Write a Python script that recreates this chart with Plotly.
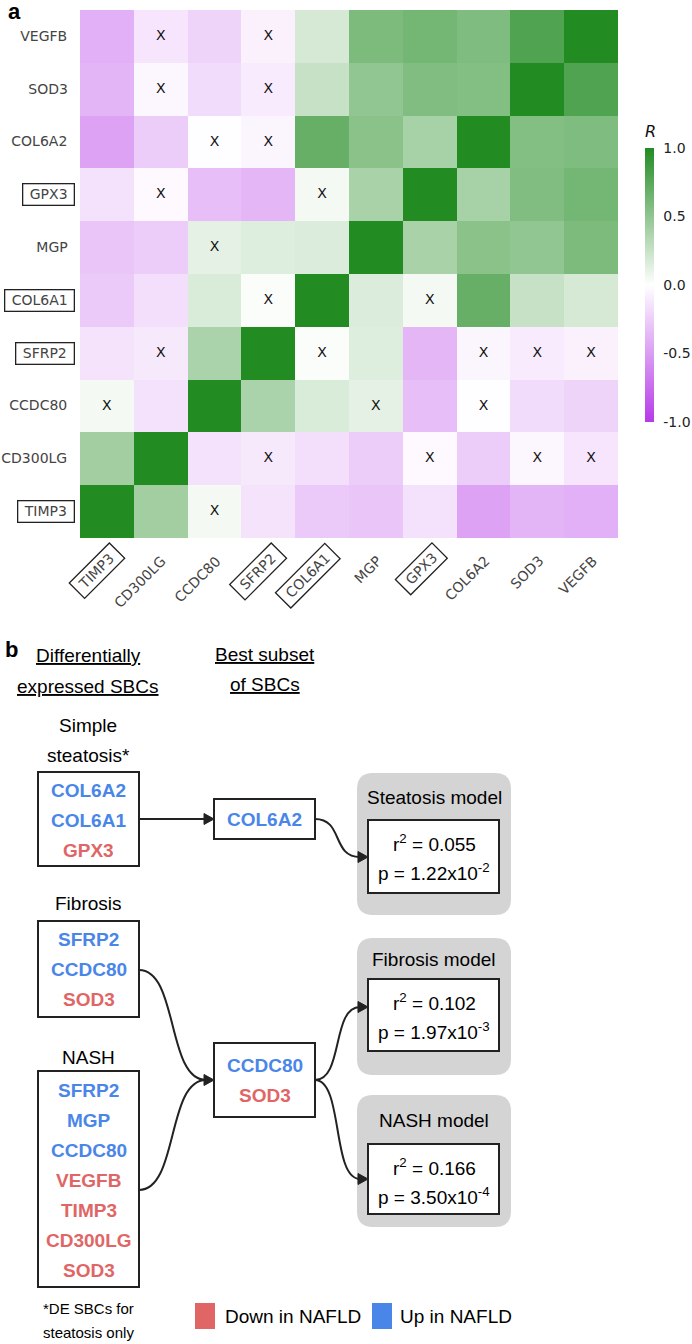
import plotly.graph_objects as go

# ---------------- data: panel a ----------------
genes = ["TIMP3", "CD300LG", "CCDC80", "SFRP2", "COL6A1",
         "MGP", "GPX3", "COL6A2", "SOD3", "VEGFB"]
boxed_genes = ["TIMP3", "SFRP2", "COL6A1", "GPX3"]
# correlation R (rows follow `genes`, bottom to top; columns left to right)
r_values = [
    [1.00, 0.42, 0.05, -0.14, -0.27, -0.29, -0.15, -0.47, -0.38, -0.40],  # TIMP3
    [0.42, 1.00, -0.15, -0.11, -0.16, -0.26, -0.03, -0.26, -0.04, -0.13],  # CD300LG
    [0.05, -0.15, 1.00, 0.38, 0.17, 0.12, -0.33, -0.01, -0.18, -0.22],    # CCDC80
    [-0.14, -0.11, 0.38, 1.00, 0.02, 0.15, -0.37, -0.05, -0.10, -0.07],   # SFRP2
    [-0.27, -0.16, 0.17, 0.02, 1.00, 0.16, 0.05, 0.69, 0.26, 0.19],       # COL6A1
    [-0.29, -0.26, 0.12, 0.15, 0.16, 1.00, 0.39, 0.53, 0.50, 0.59],       # MGP
    [-0.15, -0.03, -0.33, -0.37, 0.05, 0.39, 1.00, 0.40, 0.57, 0.63],     # GPX3
    [-0.47, -0.26, -0.01, -0.05, 0.69, 0.53, 0.40, 1.00, 0.56, 0.58],     # COL6A2
    [-0.38, -0.04, -0.18, -0.10, 0.26, 0.50, 0.57, 0.56, 1.00, 0.79],     # SOD3
    [-0.40, -0.13, -0.22, -0.07, 0.19, 0.59, 0.63, 0.58, 0.79, 1.00],     # VEGFB
]
not_significant = [("VEGFB", "CD300LG"), ("VEGFB", "SFRP2"), ("SOD3", "CD300LG"),
                   ("SOD3", "SFRP2"), ("COL6A2", "CCDC80"), ("COL6A2", "SFRP2"),
                   ("GPX3", "CD300LG"), ("GPX3", "COL6A1"), ("MGP", "CCDC80"),
                   ("COL6A1", "SFRP2"), ("SFRP2", "CD300LG"), ("CCDC80", "TIMP3")]
cbar_ticks = [-1.0, -0.5, 0.0, 0.5, 1.0]

# ---------------- data: panel b ----------------
de_simple = [("COL6A2", "up"), ("COL6A1", "up"), ("GPX3", "down")]
de_fibrosis = [("SFRP2", "up"), ("CCDC80", "up"), ("SOD3", "down")]
de_nash = [("SFRP2", "up"), ("MGP", "up"), ("CCDC80", "up"), ("VEGFB", "down"),
           ("TIMP3", "down"), ("CD300LG", "down"), ("SOD3", "down")]
best_steatosis = [("COL6A2", "up")]
best_fibrosis_nash = [("CCDC80", "up"), ("SOD3", "down")]
model_names = ["Steatosis model", "Fibrosis model", "NASH model"]
model_r2 = ["0.055", "0.102", "0.166"]
model_p = [("1.22", "-2"), ("1.97", "-3"), ("3.50", "-4")]

# ---------------- styling ----------------
W, H = 692, 1344
HM_FONT = "DejaVu Sans, sans-serif"
DG_FONT = "Liberation Sans, Arial, sans-serif"
DG_SIZE = 19
COL = {"up": "#4a86e8", "down": "#e06666"}
LINE = "#222222"
NB = "\u00a0"

hm_left, hm_right, hm_top, hm_bottom = 80, 618, 10, 538


def px(x):
    return x / W


def py(y):
    return 1 - y / H


fig = go.Figure()

fig.add_trace(go.Heatmap(
    z=r_values, x=genes, y=genes, zmin=-1, zmax=1,
    colorscale=[[0, "rgb(182,58,232)"], [0.5, "rgb(255,255,255)"], [1, "rgb(34,139,34)"]],
    xgap=0, ygap=0, hoverinfo="skip",
    colorbar=dict(
        x=px(645), xanchor="left", xpad=0, ypad=0,
        y=py(285), yanchor="middle",
        thickness=9, thicknessmode="pixels",
        len=274, lenmode="pixels", outlinewidth=0,
        tickvals=cbar_ticks, ticktext=[f"{v:.1f}" for v in cbar_ticks],
        ticks="outside", ticklen=7, tickcolor="rgba(0,0,0,0)",
        tickfont=dict(family=HM_FONT, size=14, color="#222"),
    ),
))

ns_x = [p[1] for p in not_significant] + [p[0] for p in not_significant]
ns_y = [p[0] for p in not_significant] + [p[1] for p in not_significant]
fig.add_trace(go.Scatter(
    x=ns_x, y=ns_y, mode="text", text=["X"] * len(ns_x),
    textfont=dict(family=HM_FONT, size=14, color="#111"),
    hoverinfo="skip", showlegend=False,
))

fig.update_layout(
    xaxis=dict(domain=[px(hm_left), px(hm_right)], type="category",
               categoryorder="array", categoryarray=genes, range=[-0.5, 9.5],
               showticklabels=False, showgrid=False, zeroline=False, ticks=""),
    yaxis=dict(domain=[py(hm_bottom), py(hm_top)], type="category",
               categoryorder="array", categoryarray=genes, range=[-0.5, 9.5],
               showticklabels=False, showgrid=False, zeroline=False, ticks=""),
    xaxis2=dict(domain=[0, 1], range=[0, W], visible=False, anchor="y2", fixedrange=True),
    yaxis2=dict(domain=[0, 1], range=[H, 0], visible=False, anchor="x2", fixedrange=True),
    width=W, height=H, margin=dict(l=0, r=0, t=0, b=0),
    plot_bgcolor="rgba(0,0,0,0)", paper_bgcolor="white", showlegend=False,
)
fig.add_trace(go.Scatter(x=[0], y=[0], xaxis="x2", yaxis="y2", mode="markers",
                         marker=dict(opacity=0), hoverinfo="skip", showlegend=False))

annotations = []
shapes = []

# axis labels (boxed ones get a frame)
for i, g in enumerate(genes):
    boxed = g in boxed_genes
    label = f"{NB}{g}{NB}" if boxed else g
    annotations.append(dict(
        x=px(hm_left), xref="paper", y=i, yref="y", text=label,
        xanchor="right", yanchor="middle", showarrow=False,
        xshift=-5 if boxed else -9,
        font=dict(family=HM_FONT, size=14, color="#444"),
        bordercolor="#222" if boxed else "rgba(0,0,0,0)", borderwidth=1.3, borderpad=2,
    ))
    annotations.append(dict(
        x=i, xref="x", y=py(hm_bottom), yref="paper", text=label,
        xanchor="right", yanchor="top", showarrow=False, textangle=-45,
        xshift=19 if boxed else 14, yshift=-4 if boxed else -10,
        font=dict(family=HM_FONT, size=14, color="#444"),
        bordercolor="#222" if boxed else "rgba(0,0,0,0)", borderwidth=1.3, borderpad=2,
    ))

annotations.append(dict(x=px(650), xref="paper", y=py(131), yref="paper",
                        xanchor="center", yanchor="middle",
                        text="<i>R</i>", showarrow=False,
                        font=dict(family=HM_FONT, size=16, color="#111")))

# panel letters
for letter, (lx, ly) in [("a", (14, 12)), ("b", (12, 650))]:
    annotations.append(dict(x=px(lx), xref="paper", y=py(ly), yref="paper",
                            xanchor="center", yanchor="middle", text=f"<b>{letter}</b>",
                            showarrow=False,
                            font=dict(family="Liberation Sans, Arial", size=22, color="#000")))


def txt(x, y, text, size=DG_SIZE, color="#000", bold=False, xanchor="center"):
    t = f"<b>{text}</b>" if bold else text
    annotations.append(dict(x=x, y=y, xref="x2", yref="y2", text=t, showarrow=False,
                            xanchor=xanchor, yanchor="middle",
                            font=dict(family=DG_FONT, size=size, color=color)))


def rect(x0, y0, x1, y1, fill="white", lw=2):
    shapes.append(dict(type="rect", xref="x2", yref="y2", x0=x0, y0=y0, x1=x1, y1=y1,
                       line=dict(color=LINE, width=lw), fillcolor=fill, layer="below"))


def rounded(x0, y0, x1, y1, r, fill):
    path = (f"M {x0 + r} {y0} L {x1 - r} {y0} Q {x1} {y0} {x1} {y0 + r} "
            f"L {x1} {y1 - r} Q {x1} {y1} {x1 - r} {y1} L {x0 + r} {y1} "
            f"Q {x0} {y1} {x0} {y1 - r} L {x0} {y0 + r} Q {x0} {y0} {x0 + r} {y0} Z")
    shapes.append(dict(type="path", xref="x2", yref="y2", path=path,
                       line=dict(width=0), fillcolor=fill, layer="below"))


def curve(x0, y0, x1, y1):
    xm = (x0 + x1) / 2
    path = f"M {x0} {y0} C {xm + 6} {y0}, {xm - 6} {y1}, {x1} {y1}"
    shapes.append(dict(type="path", xref="x2", yref="y2", path=path,
                       line=dict(color=LINE, width=2)))


def arrowhead(x, y, length=10, half=5.5):
    path = f"M {x} {y} L {x - length} {y - half} L {x - length} {y + half} Z"
    shapes.append(dict(type="path", xref="x2", yref="y2", path=path,
                       line=dict(color=LINE, width=1), fillcolor=LINE))


def gene_box(x0, y0, x1, y1, items, first_y, step=30):
    rect(x0, y0, x1, y1)
    cx = (x0 + x1) / 2
    for k, (name, d) in enumerate(items):
        txt(cx, first_y + k * step, name, color=COL[d], bold=True)


# headers
txt(88, 655, "<u>Differentially</u>")
txt(88, 686, "<u>expressed SBCs</u>")
txt(265, 654, "<u>Best subset</u>")
txt(265, 684, "<u>of SBCs</u>")

# left column
txt(88, 725, "Simple")
txt(88, 755, "steatosis*")
gene_box(38, 772, 139, 866, de_simple, 790)
txt(88, 903, "Fibrosis")
gene_box(38, 921, 139, 1017, de_fibrosis, 939)
txt(88, 1057, "NASH")
gene_box(38, 1071, 139, 1287, de_nash, 1090)
txt(88, 1308, "*DE SBCs for", size=15)
txt(88, 1332, "steatosis only", size=15)

# middle column
gene_box(214, 799, 315, 839, best_steatosis, 819)
gene_box(214, 1043, 315, 1117, best_fibrosis_nash, 1065)

# models
model_boxes = [(773, 915, 820, 893), (938, 1075, 979, 1051), (1095, 1227, 1144, 1214)]
for (gy0, gy1, iy0, iy1), name, r2, (pm, pe) in zip(model_boxes, model_names, model_r2, model_p):
    rounded(357, gy0, 511, gy1, 16, "#d4d4d4")
    rect(368, iy0, 499, iy1)
    txt(434, (gy0 + iy0) / 2 + 1, name)
    txt(434, iy0 + 23, f"r<sup>2</sup> = {r2}")
    txt(434, iy0 + 52, f"p = {pm}x10<sup>{pe}</sup>")

# connectors
shapes.append(dict(type="line", xref="x2", yref="y2", x0=139, y0=819, x1=206, y1=819,
                   line=dict(color=LINE, width=2)))
arrowhead(214, 819)
curve(315, 819, 360, 857)
arrowhead(368, 857)
curve(139, 970, 206, 1080)
curve(139, 1190, 206, 1080)
arrowhead(214, 1080)
curve(315, 1080, 360, 1007)
arrowhead(368, 1007)
curve(315, 1080, 360, 1179)
arrowhead(368, 1179)

# legend
shapes.append(dict(type="rect", xref="x2", yref="y2", x0=195, y0=1303, x1=215, y1=1329,
                   line=dict(width=0), fillcolor=COL["down"]))
txt(223, 1316, "Down in NAFLD", xanchor="left")
shapes.append(dict(type="rect", xref="x2", yref="y2", x0=372, y0=1303, x1=392, y1=1329,
                   line=dict(width=0), fillcolor=COL["up"]))
txt(398, 1316, "Up in NAFLD", xanchor="left")

fig.update_layout(annotations=annotations, shapes=shapes)
fig.write_html("out.html", config={"displayModeBar": False},
               post_script="document.body.style.margin='0px';")
